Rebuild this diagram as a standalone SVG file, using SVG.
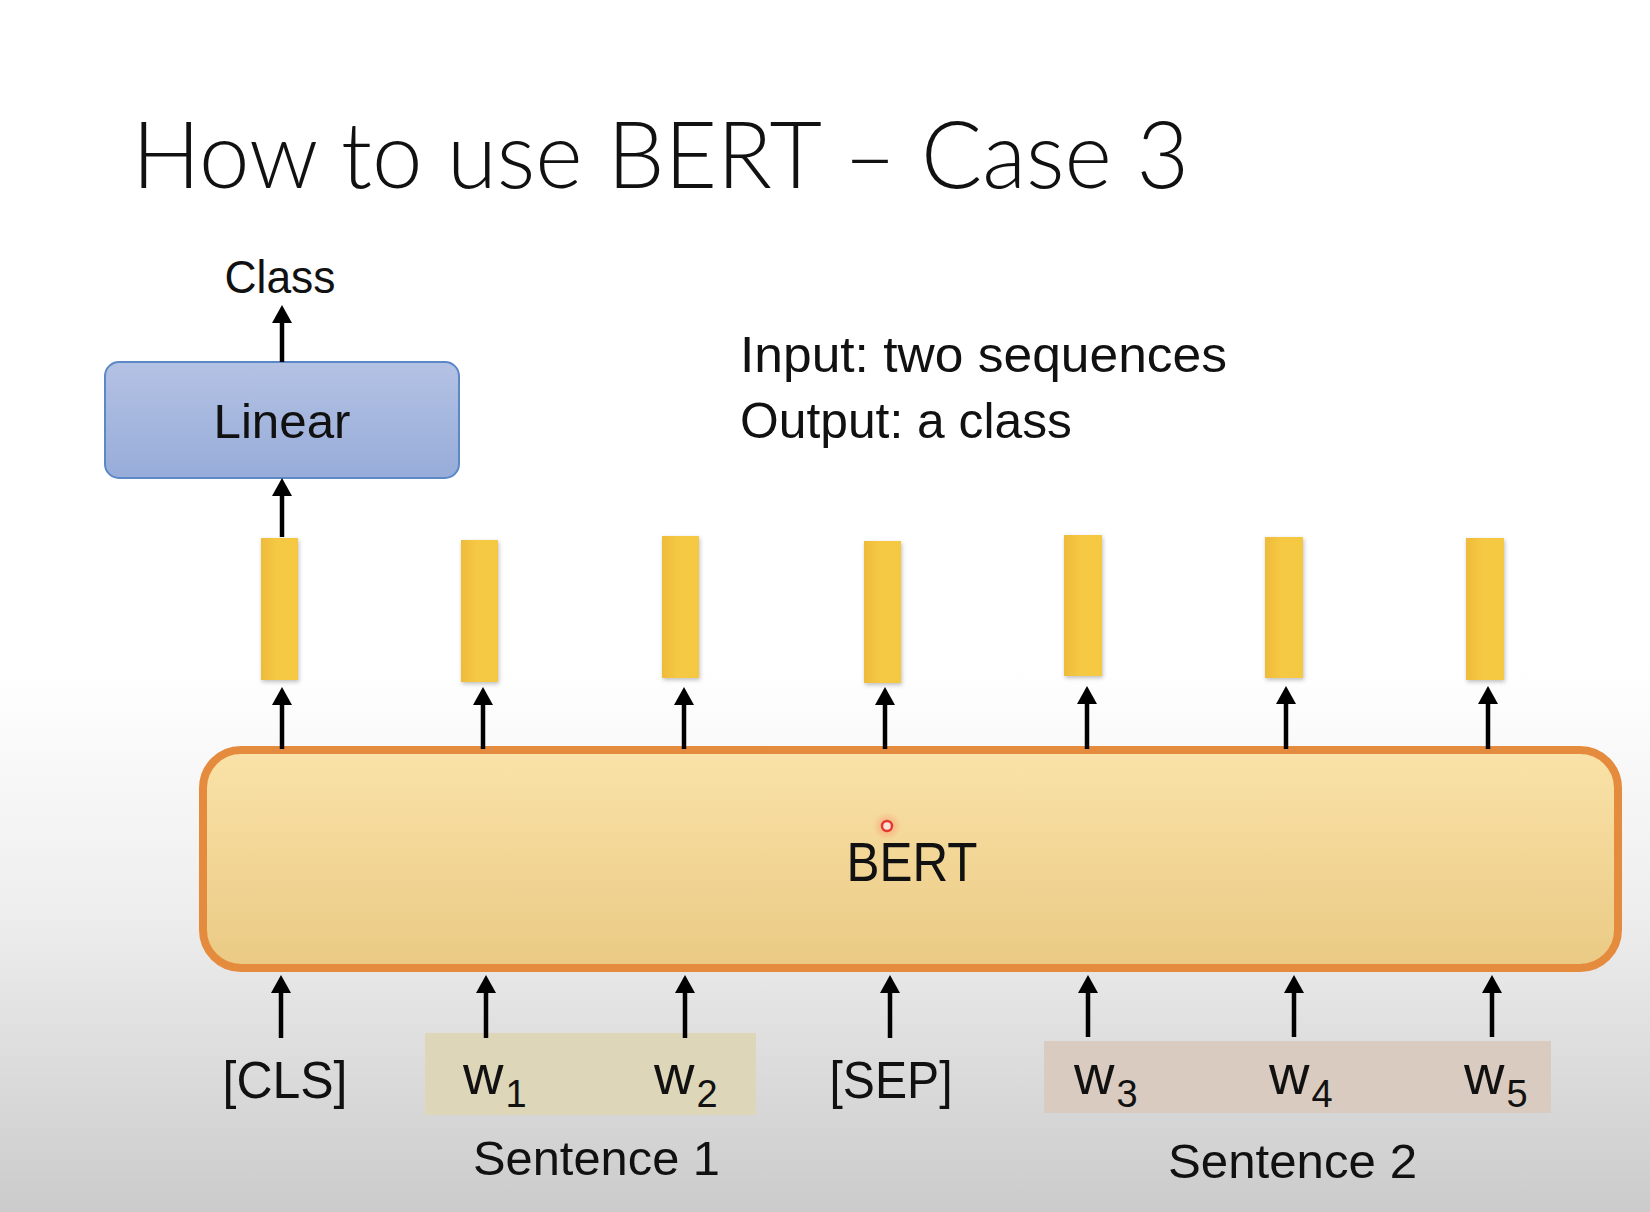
<svg xmlns="http://www.w3.org/2000/svg" width="1650" height="1212" viewBox="0 0 1650 1212">
  <defs>
    <linearGradient id="bg" x1="0" y1="0" x2="0" y2="1">
      <stop offset="0" stop-color="#ffffff"/>
      <stop offset="0.55" stop-color="#ffffff"/>
      <stop offset="0.75" stop-color="#eeeeee"/>
      <stop offset="1" stop-color="#cbcbcb"/>
    </linearGradient>
    <linearGradient id="linGrad" x1="0" y1="0" x2="0" y2="1">
      <stop offset="0" stop-color="#b4c2e4"/>
      <stop offset="1" stop-color="#97acd9"/>
    </linearGradient>
    <linearGradient id="bertGrad" x1="0" y1="0" x2="0" y2="1">
      <stop offset="0" stop-color="#fae2a8"/>
      <stop offset="1" stop-color="#eaca84"/>
    </linearGradient>
    <linearGradient id="barGrad" x1="0" y1="0" x2="1" y2="0">
      <stop offset="0" stop-color="#eebb3a"/>
      <stop offset="0.45" stop-color="#f6c944"/>
      <stop offset="1" stop-color="#f5c843"/>
    </linearGradient>
    <radialGradient id="glow">
      <stop offset="0" stop-color="#ff4040" stop-opacity="0.35"/>
      <stop offset="1" stop-color="#ff4040" stop-opacity="0"/>
    </radialGradient>
    <filter id="shadow" x="-30%" y="-10%" width="160%" height="125%">
      <feDropShadow dx="1" dy="2" stdDeviation="2" flood-color="#000" flood-opacity="0.25"/>
    </filter>
    <marker id="ah" viewBox="0 0 18 20" refX="10" refY="10" markerWidth="18" markerHeight="20" markerUnits="userSpaceOnUse" orient="auto">
      <path d="M0,0 L18,10 L0,20 z" fill="#000"/>
    </marker>
    <style>
      .t { font-family: "Liberation Sans", Arial, sans-serif; fill: #111; }
      .title { font-family: "Lato", "Liberation Sans", Arial, sans-serif; font-weight: 300; fill: #111; }
      .arrow { stroke: #000; stroke-width: 4.5; fill: none; marker-end: url(#ah); }
      .bar { fill: url(#barGrad); filter: url(#shadow); }
      .tok { font-size: 52px; }
      .w { font-size: 56px; }
      .sub { font-size: 38px; }
      .sent { font-size: 49px; }
    </style>
  </defs>

  <rect x="0" y="0" width="1650" height="1212" fill="url(#bg)"/>

  <text id="title" class="title" x="132" y="188" font-size="92" textLength="1057" lengthAdjust="spacingAndGlyphs">How to use BERT – Case 3</text>

  <g id="info">
    <text class="t" x="740" y="372" font-size="50" textLength="487" lengthAdjust="spacingAndGlyphs">Input: two sequences</text>
    <text class="t" x="740" y="438" font-size="50" textLength="332" lengthAdjust="spacingAndGlyphs">Output: a class</text>
  </g>

  <g id="class-label">
    <text class="t" x="280" y="293" font-size="46" text-anchor="middle" textLength="111" lengthAdjust="spacingAndGlyphs">Class</text>
  </g>

  <g id="linear">
    <rect x="105" y="362" width="354" height="116" rx="14" fill="url(#linGrad)" stroke="#5b88c7" stroke-width="2"/>
    <text class="t" x="282" y="438" font-size="49" text-anchor="middle" textLength="137" lengthAdjust="spacingAndGlyphs">Linear</text>
  </g>

  <g id="outputs">
    <rect class="bar" x="261" y="538" width="37" height="142"/>
    <rect class="bar" x="461" y="540" width="37" height="142"/>
    <rect class="bar" x="662" y="536" width="37" height="142"/>
    <rect class="bar" x="864" y="541" width="37" height="142"/>
    <rect class="bar" x="1064" y="535" width="38" height="141"/>
    <rect class="bar" x="1265" y="537" width="38" height="141"/>
    <rect class="bar" x="1466" y="538" width="38" height="142"/>
  </g>

  <g id="bert">
    <rect x="203" y="750" width="1415" height="218" rx="38" fill="url(#bertGrad)" stroke="#e58b3e" stroke-width="8"/>
    <text class="t" x="912" y="881" font-size="56" text-anchor="middle" textLength="131" lengthAdjust="spacingAndGlyphs">BERT</text>
    <circle cx="887" cy="826" r="14" fill="url(#glow)"/>
    <circle cx="887" cy="826" r="5" fill="#fbe3d8" stroke="#e23a2e" stroke-width="2.5"/>
  </g>

  <g id="sentence1">
    <rect x="425" y="1033" width="331" height="82" fill="#ddd6b8"/>
    <text class="t sent" x="473" y="1175" textLength="247" lengthAdjust="spacingAndGlyphs">Sentence 1</text>
  </g>
  <g id="sentence2">
    <rect x="1044" y="1041" width="507" height="72" fill="#d9cbbf"/>
    <text class="t sent" x="1168" y="1178" textLength="249" lengthAdjust="spacingAndGlyphs">Sentence 2</text>
  </g>

  <g id="tokens">
    <text class="t tok" x="285" y="1098" text-anchor="middle" textLength="125" lengthAdjust="spacingAndGlyphs">[CLS]</text>
    <text class="t w" x="463" y="1094">w<tspan class="sub" dx="2" dy="13">1</tspan></text>
    <text class="t w" x="654" y="1094">w<tspan class="sub" dx="2" dy="13">2</tspan></text>
    <text class="t tok" x="891" y="1098" text-anchor="middle" textLength="123" lengthAdjust="spacingAndGlyphs">[SEP]</text>
    <text class="t w" x="1074" y="1094">w<tspan class="sub" dx="2" dy="13">3</tspan></text>
    <text class="t w" x="1269" y="1094">w<tspan class="sub" dx="2" dy="13">4</tspan></text>
    <text class="t w" x="1464" y="1094">w<tspan class="sub" dx="2" dy="13">5</tspan></text>
  </g>

  <g id="connectors">
    <line class="arrow" x1="282" y1="362" x2="282" y2="313"/>
    <line class="arrow" x1="282" y1="537" x2="282" y2="486"/>

    <line class="arrow" x1="282" y1="749" x2="282" y2="695"/>
    <line class="arrow" x1="483" y1="749" x2="483" y2="695"/>
    <line class="arrow" x1="684" y1="749" x2="684" y2="695"/>
    <line class="arrow" x1="885" y1="749" x2="885" y2="695"/>
    <line class="arrow" x1="1087" y1="749" x2="1087" y2="694"/>
    <line class="arrow" x1="1286" y1="749" x2="1286" y2="694"/>
    <line class="arrow" x1="1488" y1="749" x2="1488" y2="694"/>

    <line class="arrow" x1="281" y1="1038" x2="281" y2="983"/>
    <line class="arrow" x1="486" y1="1038" x2="486" y2="983"/>
    <line class="arrow" x1="685" y1="1038" x2="685" y2="983"/>
    <line class="arrow" x1="890" y1="1038" x2="890" y2="983"/>
    <line class="arrow" x1="1088" y1="1037" x2="1088" y2="983"/>
    <line class="arrow" x1="1294" y1="1037" x2="1294" y2="983"/>
    <line class="arrow" x1="1492" y1="1037" x2="1492" y2="983"/>
  </g>
</svg>
